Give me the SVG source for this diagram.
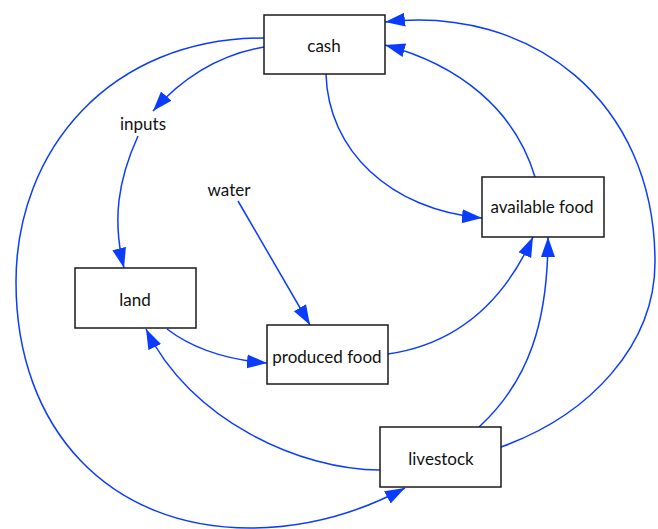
<svg xmlns="http://www.w3.org/2000/svg" width="658" height="529" viewBox="0 0 658 529">
<style>
.box{fill:#fff;stroke:#1a1a1a;stroke-width:1.5}
.lbl{font-family:Lato,"Open Sans","Liberation Sans",sans-serif;font-size:17px;fill:#111;text-anchor:middle}
.edge{fill:none;stroke:#0a3cff;stroke-width:1.5;marker-end:url(#ah)}
</style>
<defs>
<marker id="ah" markerUnits="userSpaceOnUse" markerWidth="22" markerHeight="16" refX="20" refY="7" orient="auto">
<path d="M0,0 L20,7 L0,14 Z" fill="#0a3cff"/>
</marker>
</defs>
<g id="connectors">
<path class="edge" d="M264,47 Q200,58 153,111"/>
<path class="edge" d="M264,38 C110,38 16,150 16,282 C16,430 110,528 250,528 C310,528 360,512 405,488"/>
<path class="edge" d="M138,136 C118,180 112,220 124,268"/>
<path class="edge" d="M238,201 L310,325"/>
<path class="edge" d="M167,329 Q205,358 267,363"/>
<path class="edge" d="M380,470 C300,470 190,420 146,329"/>
<path class="edge" d="M388,354 C450,345 500,310 533,237"/>
<path class="edge" d="M479,427 C530,380 548,320 548,237"/>
<path class="edge" d="M501,447 C590,415 655,345 655,262 C655,100 530,5 385,22"/>
<path class="edge" d="M535,177 C515,110 460,65 385,45"/>
<path class="edge" d="M326,74 C328,150 390,210 482,218"/>
</g>
<g id="cash"><rect class="box" x="264" y="15" width="121" height="59"/><text class="lbl" x="324" y="52">cash</text></g>
<g id="available-food"><rect class="box" x="482" y="177" width="122" height="60"/><text class="lbl" x="542" y="213">available food</text></g>
<g id="land"><rect class="box" x="75" y="268" width="121" height="60"/><text class="lbl" x="135" y="306">land</text></g>
<g id="produced-food"><rect class="box" x="267" y="325" width="121" height="59"/><text class="lbl" x="327" y="363">produced food</text></g>
<g id="livestock"><rect class="box" x="380" y="427" width="121" height="60"/><text class="lbl" x="441" y="465">livestock</text></g>
<g id="inputs"><text class="lbl" x="143" y="130">inputs</text></g>
<g id="water"><text class="lbl" x="229" y="196">water</text></g>
</svg>
